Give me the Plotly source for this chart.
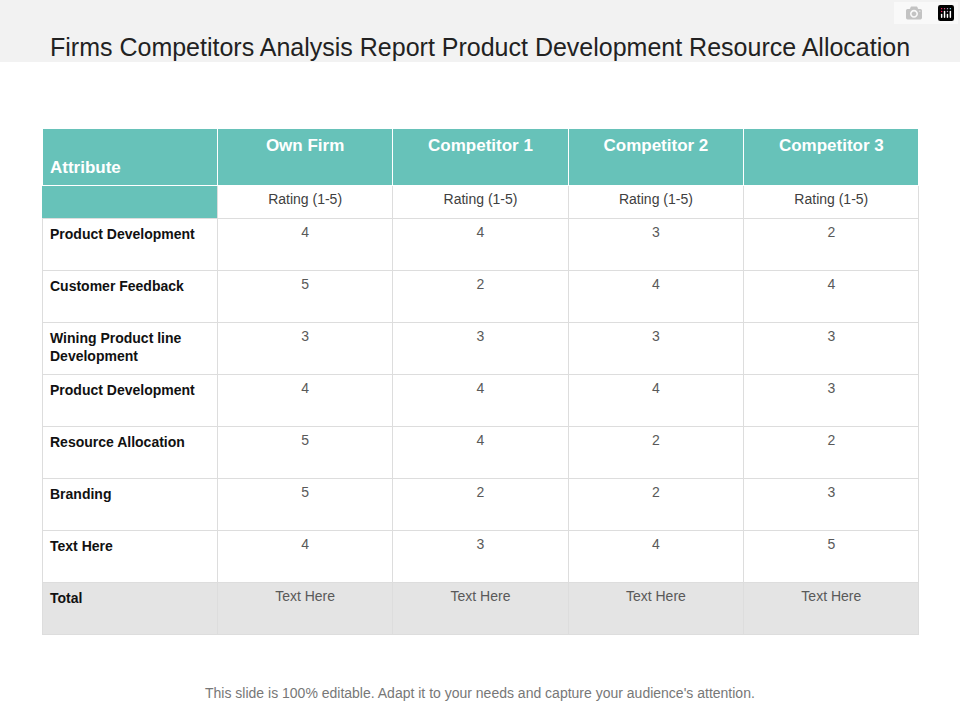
import plotly.graph_objects as go

title = "Firms Competitors Analysis Report Product Development Resource Allocation"
footer = "This slide is 100% editable. Adapt it to your needs and capture your audience's attention."
columns = ["Own Firm", "Competitor 1", "Competitor 2", "Competitor 3"]
sub_header = "Rating (1-5)"
attributes = ["Product Development", "Customer Feedback", "Wining Product line<br>Development",
              "Product Development", "Resource Allocation", "Branding", "Text Here", "Total"]
own_firm = [4, 5, 3, 4, 5, 5, 4, "Text Here"]
competitor_1 = [4, 2, 3, 4, 4, 2, 3, "Text Here"]
competitor_2 = [3, 4, 3, 4, 2, 2, 4, "Text Here"]
competitor_3 = [2, 4, 3, 3, 2, 3, 5, "Text Here"]

W, H = 960, 720
teal = "#67c2b9"
grid = "#dddddd"
font = "Liberation Sans, Arial"
x0, x1 = 42 / W, 919 / W

fig = go.Figure()

# header block: column titles plus the rating row
fig.add_trace(go.Table(
    domain=dict(x=[x0, x1], y=[0, 1 - 128 / H]),
    columnwidth=[1] * 5,
    header=dict(values=["&nbsp;<br><b>Attribute</b>"] + ["<b>%s</b>" % c for c in columns],
                fill_color=teal, line_color="white", height=52,
                align=["left"] + ["center"] * 4,
                font=dict(family=font, size=17, color="white")),
    cells=dict(values=[[""]] + [[sub_header]] * 4,
               fill_color=[teal] + ["white"] * 4,
               line_color=[teal] + [grid] * 4, height=38,
               align=["left"] + ["center"] * 4,
               font=dict(family=font, size=14, color="#404040")),
))

n = len(attributes)
row_fill = ["white"] * (n - 1) + ["#e4e4e4"]
fig.add_trace(go.Table(
    domain=dict(x=[x0, x1], y=[0, 1 - 202 / H]),
    columnwidth=[1] * 5,
    header=dict(values=None, height=0, line_width=0, fill_color="rgba(0,0,0,0)"),
    cells=dict(values=[["<b>%s</b>" % a for a in attributes], own_firm, competitor_1, competitor_2, competitor_3],
               fill_color=[row_fill] * 5, line_color=grid, height=52,
               align=["left"] + ["center"] * 4,
               font=dict(family=font, size=14,
                         color=["#111111"] + ["#595959"] * 4)),
))

fig.add_shape(type="rect", xref="paper", yref="paper", x0=0, x1=1, y0=1 - 62 / H, y1=1,
              fillcolor="#f2f2f2", line_width=0, layer="below")
fig.add_annotation(text=title, xref="paper", yref="paper", x=0.5, y=1 - 31 / H,
                   showarrow=False, font=dict(family=font, size=25, color="#222222"))
fig.add_annotation(text=footer, xref="paper", yref="paper", x=0.5, y=1 - 703 / H,
                   showarrow=False, font=dict(family=font, size=14, color="#777777"))

fig.update_layout(width=W, height=H, margin=dict(l=0, r=0, t=0, b=0),
                  paper_bgcolor="white", plot_bgcolor="white")
fig.write_html("out.html", post_script="document.body.style.margin='0';")
